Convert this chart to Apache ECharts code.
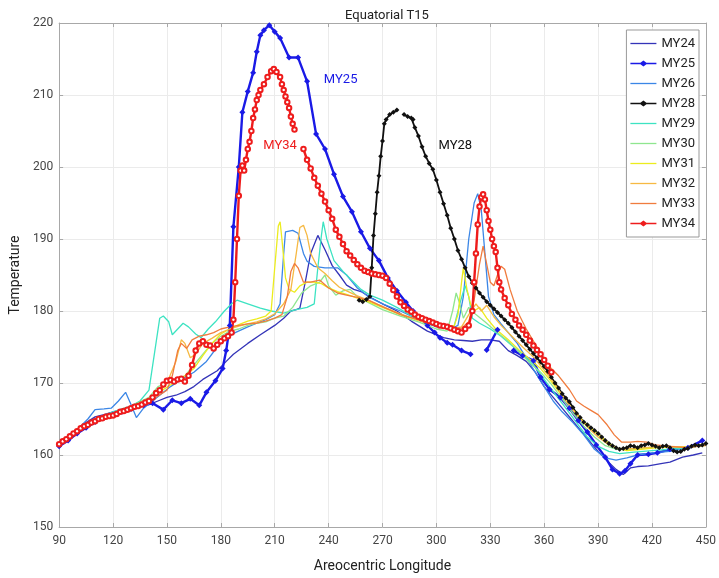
<!DOCTYPE html>
<html>
<head>
<meta charset="utf-8">
<script src="https://cdn.jsdelivr.net/npm/echarts@6/dist/echarts.min.js"></script>
<style>
  html, body { margin: 0; padding: 0; background: #fff; }
  #chart { width: 719px; height: 578px; }
</style>
</head>
<body>
<div id="chart"></div>
<script>
// Areocentric longitude (deg) / temperature (K) pairs
const my24 = [[90,161],[95,162.5],[100,163.5],[105,164.5],[110,165.3],[115,165.6],[120,166],[125,166.3],[130,166.6],[135,166.8],[140,167],[145,167.5],[150,168],[155,168.3],[160,168.8],[165,169.5],[170,170.5],[178,171.7],[183,173],[187,174],[195,175.5],[202,176.7],[210,178],[215,179],[219,180],[222,180.2],[224,180.4],[227,184],[230,188],[234,190.5],[238,188.5],[242,186.3],[246,185],[250,183.6],[254,183],[258,182.7],[264,181.8],[270,181],[278,180],[286,178.6],[295,177.2],[304,176.3],[310,176],[315,175.9],[320,175.8],[325,176],[330,176],[335,175.8],[340,174.5],[345,173.8],[350,173],[355,171.5],[360,169.5],[365,168],[370,166.5],[375,165],[380,163.5],[385,162],[390,160.5],[395,159.2],[400,158],[404,157.3],[408,158.2],[412,158.4],[418,158.5],[425,158.8],[430,159],[437,159.7],[443,160],[448,160.3]];

const my25 = [[90,161.2],[95,162],[100,163],[105,163.8],[110,164.6],[115,165.2],[120,165.6],[125,166],[130,166.4],[137,166.9],[142,167.2],[148,166.3],[153,167.6],[158,167.2],[163,167.8],[168,166.9],[172,168.7],[177,170.3],[181,172],[183,174.5],[185,178],[187,191.7],[190,200],[192,207.6],[195,210.5],[198,213.1],[200,216],[202,218.3],[204,219],[207,219.7],[210,218.8],[213,217.9],[218,215.2],[223,215.2],[228,211.9],[233,204.6],[238,202.5],[243,199],[248,195.9],[253,193.8],[258,191],[263,188.7],[268,187],[273,184.6],[278,182.8],[283,181.2],[287,180],[291,179],[295,178],[299,177],[302,176.3],[306,175.6],[309,175.3],[314,174.5],[319,174],[322,'-'],[328,174.6],[334,177.4],[338,'-'],[343,174.5],[348,173.8],[354,173.1],[358,170.8],[363,169.1],[369,168],[374,166.5],[379,164.8],[384,163.2],[389,161.4],[394,159.7],[398,158],[402,157.4],[405,157.8],[408,158.8],[412,160],[418,160.1],[423,160.3],[430,160.8],[440,161],[448,162]];

const my26 = [[90,161.5],[95,162.5],[100,163.5],[106,165],[110,166.3],[115,166.4],[119,166.5],[123,167.5],[127,168.7],[130,167],[133,165.2],[137,166.5],[142,167.5],[147,168.5],[152,169.5],[158,170.5],[165,171.5],[172,173],[178,175],[183,176.2],[188,177],[195,177.8],[200,178.3],[205,178.8],[210,179.5],[213,181],[215,188],[216,191],[220,191.2],[223,190.8],[226,188],[228,186.9],[232,186.2],[238,186],[245,186],[250,185],[256,183.2],[262,182],[270,181],[280,180],[290,178.8],[300,177.8],[308,177.5],[312,178],[315,182],[318,190],[321,195],[323,196.3],[325,194],[327,188],[329,182],[332,179.5],[336,178.2],[340,177],[345,175.5],[350,173.5],[355,171.5],[360,169.5],[365,167.5],[370,166],[376,164.5],[382,162.8],[388,160.8],[394,159.6],[400,159.3],[406,159.6],[412,160],[420,160.3],[430,160.5],[440,161],[450,161.5]];

const my28 = [[257,181.5],[259,181.3],[261,181.6],[263,182],[264,186],[265,190.5],[266,193.5],[267,196.5],[268,198.8],[269,201.5],[270,203.6],[271,206],[272,206.6],[274,207.3],[276,207.6],[278,207.9],[280,'-'],[282,207.3],[284,207],[286,206.8],[287,206.6],[288,205.5],[290,204.3],[292,202.8],[294,201.5],[296,200.5],[298,199.7],[300,198.2],[302,196.5],[304,194.9],[306,193.3],[308,191.5],[310,190],[312,188.4],[314,187.2],[316,186],[318,184.8],[320,183.9],[322,183.2],[324,182.5],[326,181.9],[328,181.3],[330,180.8],[332,180.3],[334,179.8],[336,179.3],[338,178.8],[340,178.3],[342,177.7],[344,177.1],[346,176.5],[348,175.9],[350,175.3],[352,174.7],[354,174.1],[356,173.5],[358,172.9],[360,172.3],[362,171.6],[364,170.8],[366,170],[368,169.3],[370,168.5],[372,167.9],[374,167.4],[376,166.6],[378,165.8],[380,165.2],[382,164.6],[384,164.2],[386,163.8],[388,163.4],[390,163],[392,162.5],[394,162],[396,161.6],[398,161.3],[400,161],[402,160.8],[404,160.9],[406,161],[408,161.3],[410,161.2],[412,161],[414,161.3],[416,161.4],[418,161.6],[420,161.4],[422,161.2],[424,161],[426,161.2],[428,161.3],[430,161],[432,160.6],[434,160.4],[436,160.5],[438,160.8],[440,160.9],[442,161.2],[444,161.4],[446,161.3],[448,161.4],[450,161.6]];

const my29 = [[90,161.8],[95,162.6],[100,163.6],[105,164.3],[110,165],[115,165.5],[120,166],[125,166.4],[130,166.8],[135,167.5],[140,169],[143,174],[146,179],[148,179.3],[151,178.5],[153,176.7],[156,177.5],[159,178.3],[162,177.8],[166,176.8],[169,176.3],[173,177.5],[177,178.5],[182,180],[186,181],[189,181.5],[195,181],[202,180.4],[208,180],[215,179.7],[222,180.2],[228,180.5],[232,181],[234,186],[236,190.5],[237,192.4],[239,190],[243,187],[248,185.5],[254,184],[258,183],[263,182.2],[270,181.5],[278,180.5],[285,179.5],[292,178.6],[300,178],[306,177.6],[310,178],[313,181],[316,183.5],[318,182],[320,179],[324,178.3],[330,177.5],[336,176.5],[342,175.2],[348,174],[354,172.5],[360,170.5],[366,168.5],[372,166.5],[378,164.5],[384,162.5],[390,161.2],[396,160.5],[402,160.2],[410,160.4],[420,160.6],[430,160.8],[440,161],[450,161.4]];

const my30 = [[90,161.7],[100,163.4],[110,164.8],[120,165.8],[130,166.8],[140,168],[145,169.5],[150,170],[155,170.5],[160,171],[165,172.5],[170,174],[175,175.5],[180,176.5],[185,177.2],[190,177.5],[195,178],[200,178.3],[205,178.5],[210,179],[215,179.3],[220,180.5],[225,182.5],[230,183.5],[235,184],[238,185],[240,183.5],[244,182.2],[248,182.8],[252,183],[256,182],[262,181.2],[270,180.2],[280,179.3],[290,178.5],[300,177.5],[306,177.2],[309,180],[311,182.5],[313,181],[315,179],[318,180.5],[322,179.5],[327,178.5],[333,177.2],[340,175.8],[346,174.3],[352,172.8],[358,171.5],[364,169.8],[370,167.8],[376,165.8],[382,164],[388,162.5],[394,161.3],[400,160.8],[408,160.8],[416,161],[425,161.2],[435,161.1],[445,161.2],[450,161.4]];

const my31 = [[90,161.6],[100,163.4],[110,164.8],[120,165.7],[130,166.6],[140,167.8],[145,168.6],[150,169.4],[155,170.2],[160,171],[165,172],[170,173.8],[175,175.5],[180,176.8],[185,177.5],[190,178.1],[195,178.6],[200,178.9],[205,179.3],[208,180],[210,186],[212,191.8],[213,192.4],[214,190],[216,184.6],[218,183],[221,182.6],[224,183.5],[228,184],[232,184],[236,183.8],[240,183.2],[245,182.7],[250,182.3],[256,181.8],[262,181.3],[270,180.5],[280,179.5],[290,178.7],[300,178],[306,177.7],[310,178],[312,179.5],[314,184],[315,186],[317,183],[319,181],[321,180],[324,180.5],[328,179],[333,177.5],[340,176],[346,174.6],[352,173.3],[358,172],[364,170.2],[370,168.2],[376,166.3],[382,164.6],[388,163.3],[394,162],[400,161],[406,160.6],[414,160.8],[422,161],[430,161.1],[440,161.2],[450,161.5]];

const my32 = [[90,161.5],[100,163.5],[110,164.8],[120,165.8],[130,166.7],[140,167.5],[145,168.5],[150,170],[155,173],[158,176],[160,175.5],[163,173.5],[166,174],[170,175.5],[175,176.2],[180,177],[185,177.5],[190,177.9],[195,178.2],[200,178.5],[205,178.9],[210,179.6],[215,181],[219,183],[222,188],[224,191.6],[226,191.9],[228,190.5],[230,188],[234,186],[238,185.2],[242,184.2],[246,183.3],[250,182.8],[256,182.1],[262,181.5],[270,180.6],[280,179.6],[290,178.7],[300,178],[308,177.5],[314,177.8],[318,179.5],[322,181],[325,180],[328,180.8],[332,179.2],[336,178],[342,176.5],[348,175],[354,173.6],[360,171.8],[366,169.8],[372,167.6],[378,165.6],[384,163.9],[390,162.5],[396,161.4],[402,160.8],[410,160.9],[420,161.1],[430,161.2],[440,161.1],[450,161.3]];

const my33 = [[90,161.6],[100,163.3],[110,164.8],[120,165.6],[130,166.5],[140,167.4],[145,168.2],[150,169],[153,171],[156,174.5],[158,175.5],[161,174.8],[164,176],[168,176.5],[172,176.7],[176,177],[180,177.5],[185,177.8],[190,178],[195,178.2],[200,178.3],[205,178.6],[210,179],[214,179.5],[217,182],[219,185.5],[221,186.6],[223,186],[226,184],[230,184],[235,184.3],[240,183.2],[245,182.5],[250,182.2],[256,181.9],[263,181.4],[270,180.6],[280,179.5],[290,178.8],[300,178.2],[308,177.8],[314,177.6],[318,178.5],[321,181.5],[324,186.5],[326,189],[328,186.5],[330,184],[332,183.5],[334,185],[336,186.2],[338,185.8],[341,183],[345,180],[350,177.5],[356,175],[362,172.5],[368,171],[374,169.1],[378,167.5],[382,166.8],[386,166.2],[390,165.6],[395,164.2],[399,162.8],[403,161.8],[408,161.8],[412,161.9],[417,161.8],[422,161.4],[430,161.2],[440,161],[450,161.4]];

const my34 = [[90,161.5],[92,161.9],[94,162.2],[96,162.6],[98,163],[100,163.3],[102,163.7],[104,164],[106,164.2],[108,164.5],[110,164.7],[112,165],[114,165.1],[116,165.3],[118,165.4],[120,165.5],[122,165.7],[124,166],[126,166.1],[128,166.3],[130,166.5],[132,166.7],[134,166.8],[136,167],[138,167.3],[140,167.5],[142,168],[144,168.6],[146,169],[148,169.8],[150,170.3],[152,170.4],[154,170.2],[156,170.5],[158,170.6],[160,170.2],[162,171],[164,172.5],[166,174.5],[168,175.5],[170,175.8],[172,175.3],[174,175.2],[176,174.8],[178,175.3],[180,175.8],[182,176.2],[184,176.5],[186,177],[187,178.8],[188,184],[189,190],[190,196],[191,199.5],[192,200.2],[193,199.5],[194,201],[195,202.5],[196,203.5],[197,205],[198,206.8],[199,208],[200,209.3],[201,210],[202,210.7],[204,211.5],[206,212.5],[208,213.3],[209.5,213.6],[211,213.2],[213,212.5],[214,211.5],[215,210.7],[216,209.8],[217,209],[218,208.2],[219,207],[220,206],[221,205.2],[223,'-'],[226,202.5],[228,201],[230,199.8],[232,198.5],[234,197.4],[236,196.3],[238,195.2],[240,194],[242,192.8],[244,191.3],[246,190.3],[248,189.3],[250,188.3],[252,187.7],[254,187.1],[256,186.5],[258,186],[260,185.6],[262,185.4],[264,185.2],[266,185.1],[268,185],[270,184.9],[272,184.6],[274,183.8],[276,182.9],[278,182],[280,181.2],[282,180.7],[284,180.2],[286,179.9],[288,179.5],[290,179.2],[292,179],[294,178.8],[296,178.6],[298,178.4],[300,178.2],[302,178],[304,177.9],[306,177.8],[308,177.6],[310,177.4],[312,177.2],[314,177],[316,177.5],[318,178],[320,180],[321,184],[322,188],[323,192],[324,194.5],[325,195.8],[326,196.2],[327,195.5],[328,194],[329,192.5],[330,191.3],[331,190],[332,189],[333,188.2],[334,186],[335,184],[336,183],[338,181.8],[340,180.8],[342,179.6],[344,178.8],[346,178],[348,177.4],[350,176.7],[352,175.9],[354,175.2],[356,174.6],[358,174],[360,173.2],[362,172.4],[364,171.5]];

const seriesNames = ['MY24', 'MY25', 'MY26', 'MY28', 'MY29', 'MY30', 'MY31', 'MY32', 'MY33', 'MY34'];
const seriesData = [my24, my25, my26, my28, my29, my30, my31, my32, my33, my34];

// in-plot labels: [text, lon, temp]
const annotations = [['MY25', 246.7, 212.1], ['MY34', 213, 202.9], ['MY28', 310.5, 202.9]];

const colors = {
  MY24: '#3434b8', MY25: '#1a1ae6', MY26: '#3b86e6', MY28: '#111111', MY29: '#3de3c2',
  MY30: '#8fe68f', MY31: '#ecec1e', MY32: '#f6b943', MY33: '#f07c3e', MY34: '#ee1c1c'
};
const fontFamily = 'Roboto, "Liberation Sans", sans-serif';

// legend glyphs: plain line, and line with a small marker in the middle
const plainIcon = 'path://M0,0 H26 V1.3 H0 Z';
const markerIcon = 'path://M0,2.3 H10 L13,0 L16,2.3 H26 V3.7 H16 L13,6 L10,3.7 H0 Z';
const markedSeries = ['MY25', 'MY28', 'MY34'];

const chart = echarts.init(document.getElementById('chart'));

const series = seriesNames.map((name, i) => {
  const s = {
    name: name,
    type: 'line',
    data: seriesData[i],
    color: colors[name],
    lineStyle: { width: 1.3, color: colors[name] },
    symbol: 'none',
    showSymbol: false,
    connectNulls: false,
    smooth: false,
    silent: true
  };
  if (name === 'MY25') {
    s.lineStyle.width = 2.4;
    s.symbol = 'diamond';
    s.showSymbol = true;
    s.symbolSize = 6;
  } else if (name === 'MY28') {
    s.lineStyle.width = 1.8;
    s.symbol = 'diamond';
    s.showSymbol = true;
    s.symbolSize = 5;
  } else if (name === 'MY34') {
    s.lineStyle.width = 2.4;
    s.symbol = 'emptyCircle';
    s.showSymbol = true;
    s.symbolSize = 4.5;
  }
  const note = annotations.find(a => a[0] === name);
  if (note) {
    s.markPoint = {
      silent: true,
      symbol: 'circle',
      symbolSize: 1,
      itemStyle: { color: 'rgba(0,0,0,0)' },
      label: {
        show: true, position: 'inside', formatter: note[0],
        color: colors[name], fontSize: 13, fontFamily: fontFamily
      },
      data: [{ coord: [note[1], note[2]] }]
    };
  }
  return s;
});

const option = {
  animation: false,
  backgroundColor: '#fff',
  title: {
    text: 'Equatorial T15',
    left: 382,
    top: 4,
    textAlign: 'center',
    textStyle: { fontSize: 13, fontWeight: 'normal', color: '#222', fontFamily: fontFamily }
  },
  legend: {
    data: seriesNames.map(name => ({
      name: name,
      icon: markedSeries.includes(name) ? markerIcon : plainIcon,
      itemStyle: { color: colors[name], borderWidth: 0 }
    })),
    orient: 'vertical',
    right: 20,
    top: 30,
    padding: [7, 4, 7, 4],
    itemWidth: 26,
    itemHeight: 14,
    itemGap: 7,
    symbolKeepAspect: true,
    backgroundColor: '#fff',
    borderColor: '#999',
    borderWidth: 1,
    textStyle: { fontSize: 13, color: '#222', fontFamily: fontFamily }
  },
  grid: { left: 58, right: 13, top: 23, bottom: 47 },
  xAxis: [
    {
      type: 'value', min: 90, max: 450, interval: 30,
      name: 'Areocentric Longitude', nameLocation: 'middle', nameGap: 32,
      nameTextStyle: { fontSize: 14, color: '#222', fontFamily: fontFamily },
      axisLine: { show: true, lineStyle: { color: '#a8a8a8' } },
      axisTick: { show: true, inside: true, length: 4, lineStyle: { color: '#a8a8a8' } },
      axisLabel: { fontSize: 12, color: '#444', margin: 8, fontFamily: fontFamily },
      splitLine: { show: true, lineStyle: { color: '#ebebeb' } }
    },
    {
      type: 'value', position: 'top', min: 90, max: 450, interval: 30,
      axisLine: { show: true, lineStyle: { color: '#a8a8a8' } },
      axisTick: { show: true, inside: true, length: 4, lineStyle: { color: '#a8a8a8' } },
      axisLabel: { show: false },
      splitLine: { show: false }
    }
  ],
  yAxis: [
    {
      type: 'value', min: 150, max: 220, interval: 10,
      name: 'Temperature', nameLocation: 'middle', nameGap: 32, nameRotate: 90,
      nameTextStyle: { fontSize: 14, color: '#222', fontFamily: fontFamily },
      axisLine: { show: true, lineStyle: { color: '#a8a8a8' } },
      axisTick: { show: true, inside: true, length: 4, lineStyle: { color: '#a8a8a8' } },
      axisLabel: { fontSize: 12, color: '#444', margin: 6, fontFamily: fontFamily },
      splitLine: { show: true, lineStyle: { color: '#ebebeb' } }
    },
    {
      type: 'value', position: 'right', min: 150, max: 220, interval: 10,
      axisLine: { show: true, lineStyle: { color: '#a8a8a8' } },
      axisTick: { show: true, inside: true, length: 4, lineStyle: { color: '#a8a8a8' } },
      axisLabel: { show: false },
      splitLine: { show: false }
    }
  ],
  series: series
};

chart.setOption(option);
</script>
</body>
</html>
